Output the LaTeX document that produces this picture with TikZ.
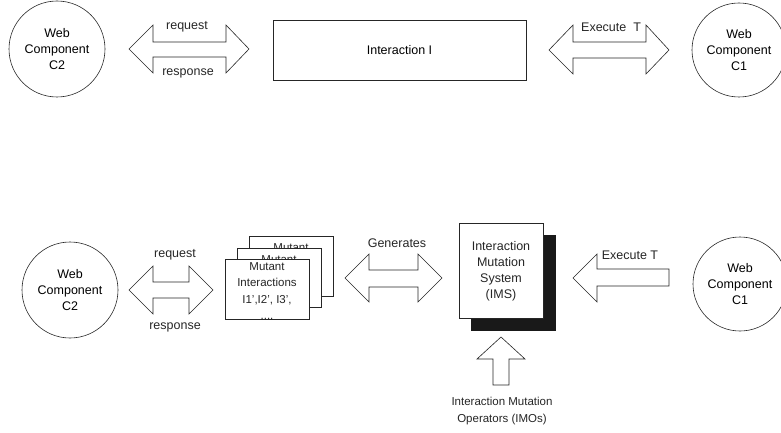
\documentclass[tikz,border=0pt]{standalone}
\usepackage{fontspec}
\setmainfont{Liberation Sans}
\begin{document}
\begin{tikzpicture}[x=1pt,y=-1pt,
  ln/.style={draw=black!85,line width=0.6pt},
  comp/.style={ln,circle,minimum size=96pt,inner sep=0pt,align=center,font=\fontsize{12.5}{16}\selectfont},
  blk/.style={ln,fill=white,line join=miter},
  lbl/.style={inner sep=0pt,font=\fontsize{12.5}{16}\selectfont,text=black!85},
  box/.style={ln,fill=white,inner sep=0pt,align=center,font=\fontsize{12.5}{16}\selectfont}]
\useasboundingbox (0,0) rectangle (781,433);
% ---------- top row ----------
\node[comp] (c2a) at (57,49) {Web\\Component\\C2};
\node[comp,minimum size=94pt] (c1a) at (739,50) {Web\\Component\\C1};
\node[box,minimum width=253pt,minimum height=60pt] (inter) at (399.5,50) {Interaction I};
\draw[blk] (129,49) -- (153,25) -- (153,42) -- (226,42) -- (226,25) -- (249,49) -- (226,73) -- (226,57) -- (153,57) -- (153,73) -- cycle;
\node[lbl] (req1) at (187,27) {request};
\node[lbl] (resp1) at (188,73) {response};
\draw[blk] (549,50) -- (573,25) -- (573,42) -- (646,42) -- (646,25) -- (669,50) -- (646,74) -- (646,58) -- (573,58) -- (573,74) -- cycle;
\node[lbl,anchor=west] (exe1) at (581,27) {Execute\ \ T};
% ---------- bottom row ----------
\node[comp] (c2b) at (70,290) {Web\\Component\\C2};
\node[comp,minimum size=94pt] (c1b) at (740,284) {Web\\Component\\C1};
\draw[blk] (129,290) -- (153,266) -- (153,282) -- (189,282) -- (189,266) -- (213,290) -- (189,314) -- (189,298) -- (153,298) -- (153,314) -- cycle;
\node[lbl] (req2) at (175,255) {request};
\node[lbl] (resp2) at (175,327) {response};
% mutant stack
\node[box,minimum width=84pt,minimum height=60pt,anchor=north west] (m3) at (249,236) {};
\node[lbl,anchor=base,font=\fontsize{11.5}{16.5}\selectfont] (m3t) at (291,251.5) {Mutant};
\node[box,minimum width=84pt,minimum height=59pt,anchor=north west] (m2) at (237,248) {};
\node[lbl,anchor=base,font=\fontsize{11.5}{16.5}\selectfont] (m2t) at (279,263.5) {Mutant};
\node[box,minimum width=84pt,minimum height=60pt,anchor=north west] (m1) at (225,259) {};
\node[lbl,align=center,font=\fontsize{11.5}{16.5}\selectfont] (m1t) at (267,291) {Mutant\\Interactions\\I1',I2', I3',\\....};
% generates
\draw[blk] (345,278) -- (369,254) -- (369,270) -- (418,270) -- (418,254) -- (442,278) -- (418,302) -- (418,287) -- (369,287) -- (369,302) -- cycle;
\node[lbl] (gen) at (397,243) {Generates};
% IMS
\fill[black!90] (471,235) rectangle (556,331);
\node[box,minimum width=84pt,minimum height=95pt,anchor=north west] (ims) at (459,223) {};
\node[lbl,align=center] (imst) at (501,271) {Interaction\\Mutation\\System\\(IMS)};
% execute T
\draw[blk] (573,278) -- (597,254) -- (597,269) -- (669,269) -- (669,286) -- (597,286) -- (597,302) -- cycle;
\node[lbl] (exe2) at (630,255) {Execute T};
% up arrow
\draw[blk] (501,337) -- (525,359) -- (509,359) -- (509,385) -- (493,385) -- (493,359) -- (477,359) -- cycle;
\node[lbl,align=center,font=\fontsize{11.5}{16.5}\selectfont] (imo) at (502,411) {Interaction Mutation\\Operators (IMOs)};
\end{tikzpicture}
\end{document}
